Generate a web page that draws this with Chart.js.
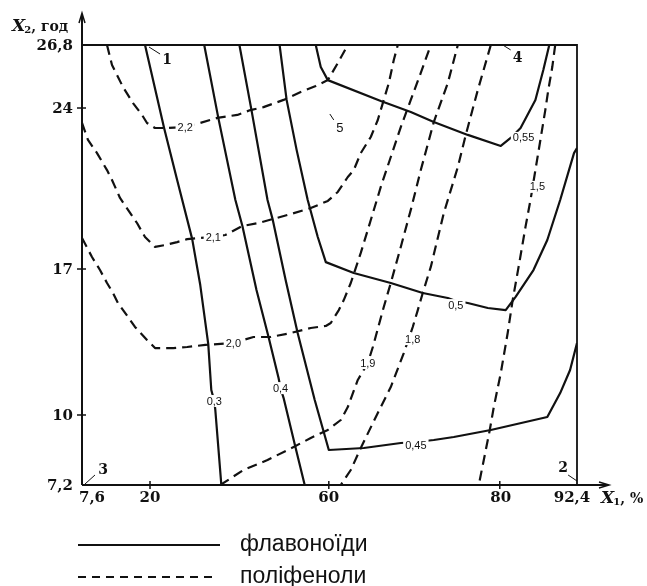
<!DOCTYPE html>
<html>
<head>
<meta charset="utf-8">
<title>Флавоноїди та поліфеноли</title>
<script src="https://cdn.jsdelivr.net/npm/chart.js@4.4.1/dist/chart.umd.min.js"></script>
<style>
  html, body { margin: 0; padding: 0; background: #fff; }
  canvas { display: block; }
</style>
</head>
<body>
<canvas id="contours" width="647" height="586"></canvas>
<script>
//? Axis ticks (X1 - %, X2 - hours)
const xTicks = [7.6, 20, 60, 80, 92.4]
const xTickLabels = ['7,6', '20', '60', '80', '92,4']
const yTicks = [7.2, 10, 17, 24, 26.8]
const yTickLabels = ['7,2', '10', '17', '24', '26,8']

//? Flavonoid isolines (solid), points as [X1, X2]
const flav03 = [[19.09,26.8],[23.15,23.13],[26.07,20.87],[29.44,18.30],[31.24,16.23],[33.03,13.40],[33.71,11.20],[34.38,10.67],[34.61,10.24],[35.96,7.2]]
const flav04 = [[32.13,26.8],[35.28,23.57],[39.10,20.0],[40.67,18.87],[43.82,15.99],[46.52,13.74],[48.76,11.77],[49.21,11.29],[49.89,10.81],[52.58,8.68],[54.61,7.2]]
const flav045 = [[40.0,26.8],[42.70,23.91],[46.29,20.0],[47.42,19.17],[50.34,16.47],[53.03,13.93],[56.85,10.72],[60.0,8.60],[64.09,8.68],[68.42,8.88],[70.18,8.92],[72.28,9.0],[74.62,9.12],[78.95,9.40],[87.63,9.92],[89.70,11.05],[91.29,12.16],[92.4,13.45]]
const flav05 = [[48.99,26.8],[50.56,24.36],[52.81,22.17],[55.28,20.0],[57.53,18.39],[59.33,17.30],[62.92,16.81],[67.25,16.33],[70.99,15.85],[73.92,15.61],[74.86,15.47],[76.26,15.37],[78.60,15.13],[80.95,15.03],[82.54,15.66],[85.41,16.95],[87.63,18.26],[89.70,20.0],[91.92,22.04],[92.4,22.26]]
const flav055 = [[57.08,26.8],[58.20,25.82],[59.78,25.24],[66.08,24.31],[69.59,23.83],[72.28,23.39],[76.26,22.83],[80.16,22.35],[81.75,22.70],[83.34,23.13],[85.72,24.36],[86.99,25.69],[87.95,26.8]]

//? Polyphenol isolines (dashed)
const poly22 = [[12.16,26.8],[13.07,25.91],[13.98,25.47],[15.08,24.93],[16.90,24.22],[18.54,23.70],[19.45,23.35],[21.12,23.13],[23.15,23.13],[27.87,23.17],[31.24,23.35],[35.06,23.57],[39.55,23.70],[42.47,23.91],[45.39,24.04],[49.89,24.36],[53.71,24.71],[57.08,24.98],[59.78,25.24],[61.05,26.0],[62.22,26.8]]
const poly21 = [[7.6,23.35],[8.69,22.61],[10.34,22.04],[12.16,21.30],[13.07,20.87],[14.53,20.09],[17.63,19.0],[19.09,18.39],[21.12,17.96],[23.37,18.04],[26.07,18.17],[28.31,18.30],[31.24,18.35],[33.93,18.39],[36.85,18.48],[40.67,18.87],[44.27,19.0],[47.42,19.17],[50.79,19.35],[55.96,19.65],[59.78,19.96],[61.05,20.35],[62.22,21.0],[62.92,21.30],[63.74,22.04],[64.91,22.74],[65.73,23.48],[66.43,24.36],[67.02,25.11],[67.60,26.13],[68.07,26.8]]
const poly20 = [[7.6,18.35],[9.42,17.52],[10.88,16.95],[12.16,16.33],[13.25,15.85],[14.16,15.37],[15.99,14.70],[17.26,14.22],[19.45,13.60],[21.12,13.21],[25.17,13.21],[28.31,13.26],[32.36,13.36],[38.65,13.45],[43.15,13.74],[46.97,13.74],[51.46,13.93],[55.96,14.17],[59.33,14.27],[60.23,14.41],[61.17,15.03],[61.75,15.51],[62.57,16.33],[63.74,17.70],[64.91,19.13],[66.08,20.57],[67.25,21.87],[68.42,23.17],[69.59,24.36],[70.76,25.56],[71.93,26.8]]
const poly19 = [[35.73,7.2],[40.90,7.80],[46.29,8.20],[52.13,8.72],[55.96,9.08],[59.78,9.40],[61.40,9.80],[62.22,10.38],[63.39,11.68],[64.56,12.49],[65.15,13.26],[66.43,15.18],[67.25,16.33],[68.42,17.96],[69.59,19.57],[70.76,21.30],[72.28,23.39],[73.92,25.11],[75.09,26.8]]
const poly18 = [[78.95,26.8],[77.43,24.80],[76.02,22.83],[75.09,21.43],[73.45,19.43],[71.93,17.09],[70.99,15.85],[70.41,15.03],[69.82,14.22],[68.77,12.97],[67.25,11.34],[65.73,10.10],[63.74,8.68],[62.57,7.80],[61.40,7.2]]
const poly15 = [[88.90,26.8],[88.43,25.82],[87.79,24.80],[87.31,23.91],[86.52,22.61],[85.72,21.30],[84.93,20.0],[84.13,18.83],[83.02,17.09],[82.07,15.51],[81.27,13.93],[80.16,12.01],[79.30,10.38],[78.83,9.40],[78.13,8.20],[77.54,7.2]]

//? Isoline value labels
const isoLabels = ['2,2', '2,1', '2,0', '1,9', '1,8', '1,5', '0,3', '0,4', '0,45', '0,5', '0,55']
const isoLabelX = [27.87, 34.16, 38.65, 64.56, 69.82, 86.04, 34.38, 49.21, 70.18, 74.86, 83.82]
const isoLabelY = [23.17, 18.39, 13.45, 12.49, 13.64, 20.57, 10.67, 11.29, 8.80, 15.27, 22.70]

//? Numbered points with their little leader strokes
const pointNames = ['1', '2', '3', '4', '5']
const pointX = [23.82, 90.17, 11.43, 82.86, 61.29]
const pointY = [26.13, 7.88, 7.80, 26.22, 23.13]
const leaderFrom = [[19.82,26.71], [90.97,7.60], [8.15,7.24], [80.48,26.8], [60.12,23.74]]
const leaderTo = [[22.25,26.40], [92.4,7.36], [9.97,7.60], [81.75,26.58], [60.58,23.48]]

const legendNames = ['флавоноїди', 'поліфеноли']

// the printed axes are not uniform: tick values sit at these fractions of the axis
const axisStops = {
  x: { values: xTicks, fracs: [0, 0.1374, 0.4986, 0.8440, 1] },
  y: { values: yTicks, fracs: [0, 0.1591, 0.4909, 0.8568, 1] },
}

class PiecewiseScale extends Chart.LinearScale {
  static id = 'piecewise'
  static defaults = {}

  toFrac(v) {
    const s = axisStops[this.id]
    const b = s.values, f = s.fracs
    let i = 1
    while (i < b.length - 1 && v > b[i]) i++
    return f[i - 1] + (v - b[i - 1]) * (f[i] - f[i - 1]) / (b[i] - b[i - 1])
  }

  getPixelForValue(v) {
    if (v === null || v === undefined || isNaN(v)) return NaN
    const t = this.toFrac(v)
    return this.isHorizontal() ? this.left + t * this.width : this.bottom - t * this.height
  }
}
Chart.register(PiecewiseScale)

const ink = '#111'

function isoline(points, dashed) {
  return {
    data: points.map(p => ({ x: p[0], y: p[1] })),
    borderColor: ink,
    borderWidth: 2.2,
    borderDash: dashed ? [10, 6] : [],
    pointRadius: 0,
    tension: 0,
    fill: false,
    borderJoinStyle: 'round',
  }
}

const datasets = [
  isoline(flav03), isoline(flav04), isoline(flav045), isoline(flav05), isoline(flav055),
  isoline(poly22, true), isoline(poly21, true), isoline(poly20, true),
  isoline(poly19, true), isoline(poly18, true), isoline(poly15, true),
]

const serif = '"DejaVu Serif", "Liberation Serif", serif'
const sans = '"Liberation Sans", Arial, sans-serif'

// draws axes, labels, numbered points and the legend on top of the lines
const extras = {
  id: 'extras',
  afterDatasetsDraw(chart) {
    const ctx = chart.ctx
    const xs = chart.scales.x, ys = chart.scales.y
    const a = chart.chartArea
    ctx.save()
    ctx.strokeStyle = ink
    ctx.fillStyle = ink
    ctx.setLineDash([])

    //* isoline value labels on white patches
    ctx.font = '11px ' + sans
    ctx.textAlign = 'center'
    ctx.textBaseline = 'middle'
    isoLabels.forEach((t, i) => {
      const x = xs.getPixelForValue(isoLabelX[i])
      const y = ys.getPixelForValue(isoLabelY[i])
      const w = ctx.measureText(t).width + 4
      ctx.fillStyle = '#fff'
      ctx.fillRect(x - w / 2, y - 6, w, 12)
      ctx.fillStyle = ink
      ctx.fillText(t, x, y + 0.5)
    })

    //* frame top + right
    ctx.lineWidth = 1.8
    ctx.beginPath()
    ctx.moveTo(a.left, a.top)
    ctx.lineTo(a.right, a.top)
    ctx.lineTo(a.right, a.bottom)
    ctx.stroke()

    //* axes with arrows
    ctx.lineWidth = 2
    ctx.beginPath()
    ctx.moveTo(a.left, a.bottom); ctx.lineTo(a.left, 14)
    ctx.moveTo(a.left, a.bottom); ctx.lineTo(607, a.bottom)
    ctx.stroke()
    ctx.lineWidth = 1.5
    ctx.beginPath()
    ctx.moveTo(a.left - 3, 23); ctx.lineTo(a.left, 13); ctx.lineTo(a.left + 3, 23)
    ctx.moveTo(599, a.bottom - 3); ctx.lineTo(609, a.bottom); ctx.lineTo(599, a.bottom + 3)
    ctx.stroke()

    //* tick marks + tick labels
    ctx.lineWidth = 1.5
    ctx.font = 'bold 15px ' + serif
    ctx.textAlign = 'right'
    ctx.textBaseline = 'middle'
    yTicks.forEach((v, i) => {
      const y = ys.getPixelForValue(v)
      if (i > 0 && i < yTicks.length - 1) {
        ctx.beginPath(); ctx.moveTo(a.left - 5, y); ctx.lineTo(a.left + 4, y); ctx.stroke()
      }
      ctx.fillText(yTickLabels[i], a.left - 9, y + 1)
    })
    const xNudge = [10, 0, 0, 1, -5]
    ctx.textAlign = 'center'
    xTicks.forEach((v, i) => {
      const x = xs.getPixelForValue(v)
      if (i > 0 && i < xTicks.length - 1) {
        ctx.beginPath(); ctx.moveTo(x, a.bottom - 4); ctx.lineTo(x, a.bottom + 4); ctx.stroke()
      }
      ctx.fillText(xTickLabels[i], x + xNudge[i], a.bottom + 13)
    })

    //* axis titles  X2, год  /  X1, %
    ctx.textAlign = 'left'
    ctx.textBaseline = 'alphabetic'
    function title(x, y, sub, rest) {
      ctx.font = 'italic bold 17px ' + serif
      ctx.fillText('X', x, y)
      x += ctx.measureText('X').width - 1
      ctx.font = 'bold 10px ' + serif
      ctx.fillText(sub, x, y + 2)
      x += ctx.measureText(sub).width
      ctx.font = 'bold 14px ' + serif
      ctx.fillText(rest, x, y)
    }
    title(12, 31, '2', ', год')
    title(601, 503, '1', ', %')

    //* numbered points
    ctx.lineWidth = 1
    pointNames.forEach((t, i) => {
      ctx.beginPath()
      ctx.moveTo(xs.getPixelForValue(leaderFrom[i][0]), ys.getPixelForValue(leaderFrom[i][1]))
      ctx.lineTo(xs.getPixelForValue(leaderTo[i][0]), ys.getPixelForValue(leaderTo[i][1]))
      ctx.stroke()
      ctx.font = t === '5' ? '13px ' + sans : 'bold 14px ' + serif
      ctx.textAlign = 'center'
      ctx.textBaseline = 'middle'
      ctx.fillText(t, xs.getPixelForValue(pointX[i]), ys.getPixelForValue(pointY[i]))
    })

    //* legend
    ctx.lineWidth = 1.8
    ctx.beginPath(); ctx.moveTo(78, 545); ctx.lineTo(220, 545); ctx.stroke()
    ctx.setLineDash([8, 6])
    ctx.beginPath(); ctx.moveTo(78, 577); ctx.lineTo(214, 577); ctx.stroke()
    ctx.setLineDash([])
    ctx.font = '23px ' + sans
    ctx.textAlign = 'left'
    ctx.textBaseline = 'middle'
    ctx.fillText(legendNames[0], 240, 545)
    ctx.fillText(legendNames[1], 240, 577)

    ctx.restore()
  }
}

let chart = new Chart(document.getElementById('contours'), {
  type: 'line',
  data: { datasets },
  options: {
    responsive: false,
    devicePixelRatio: 1,
    animation: false,
    events: [],
    layout: { padding: { left: 82, right: 70, top: 45, bottom: 101 } },
    plugins: { legend: { display: false }, tooltip: { enabled: false } },
    scales: {
      x: { type: 'piecewise', min: 7.6, max: 92.4, display: false },
      y: { type: 'piecewise', min: 7.2, max: 26.8, display: false },
    },
  },
  plugins: [extras],
})
</script>
</body>
</html>
